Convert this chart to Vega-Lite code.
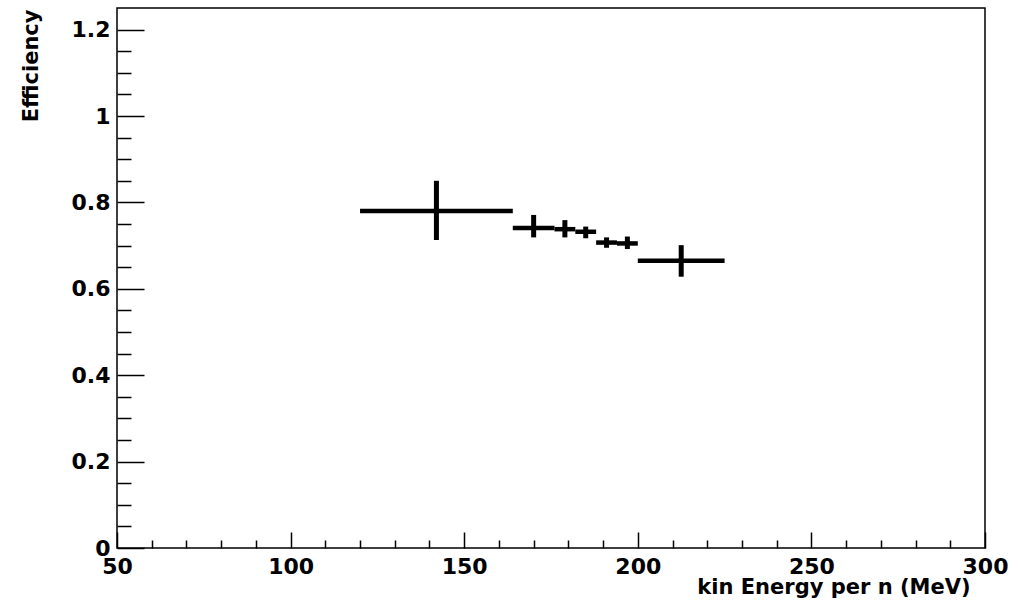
{
  "$schema": "https://vega.github.io/schema/vega-lite/v6.json",
  "width": 868,
  "height": 540,
  "autosize": {"type": "none"},
  "padding": {"left": 117, "top": 8, "right": 35, "bottom": 52},
  "background": "white",
  "config": {
    "view": {"stroke": "black", "strokeWidth": 1.5},
    "axis": {
      "grid": false,
      "domain": false,
      "tickColor": "black",
      "tickWidth": 1.5,
      "labelFont": "DejaVu Sans",
      "labelFontWeight": "bold",
      "labelFontSize": 22,
      "labelColor": "black",
      "titleFont": "DejaVu Sans",
      "titleFontWeight": "bold",
      "titleFontSize": 21,
      "titleColor": "black",
      "labelFlush": false,
      "labelOverlap": false,
      "labelBound": false
    }
  },
  "data": {
    "values": [
      {"x": 142, "xlo": 120, "xhi": 164, "y": 0.780, "ylo": 0.713, "yhi": 0.850},
      {"x": 170, "xlo": 164, "xhi": 176, "y": 0.741, "ylo": 0.719, "yhi": 0.771},
      {"x": 179, "xlo": 176, "xhi": 182, "y": 0.738, "ylo": 0.719, "yhi": 0.759},
      {"x": 185, "xlo": 182, "xhi": 188, "y": 0.732, "ylo": 0.717, "yhi": 0.744},
      {"x": 191, "xlo": 188, "xhi": 194, "y": 0.707, "ylo": 0.695, "yhi": 0.719},
      {"x": 197, "xlo": 194, "xhi": 200, "y": 0.705, "ylo": 0.692, "yhi": 0.721},
      {"x": 212.5, "xlo": 200, "xhi": 225, "y": 0.665, "ylo": 0.628, "yhi": 0.701}
    ]
  },
  "layer": [
    {
      "mark": {"type": "rule", "strokeWidth": 4.5, "color": "black"},
      "encoding": {
        "x": {
          "field": "xlo",
          "type": "quantitative",
          "scale": {"domain": [50, 300], "nice": false, "zero": false},
          "axis": {
            "orient": "bottom",
            "values": [50, 100, 150, 200, 250, 300],
            "format": "d",
            "tickSize": -16,
            "labelPadding": 41,
            "labelBaseline": "alphabetic",
            "title": "kin Energy per n (MeV)",
            "titleAnchor": "end",
            "titleAlign": "right",
            "titleBaseline": "alphabetic",
            "titleX": 853,
            "titleY": 45
          }
        },
        "x2": {"field": "xhi"},
        "y": {
          "field": "y",
          "type": "quantitative",
          "scale": {"domain": [0, 1.25], "nice": false, "zero": false},
          "axis": {
            "orient": "left",
            "values": [0, 0.2, 0.4, 0.6, 0.8, 1, 1.2],
            "format": "~g",
            "tickSize": -27,
            "labelPadding": 34,
            "title": "Efficiency",
            "titleAnchor": "end",
            "titleAlign": "right",
            "titleAngle": 270,
            "titleBaseline": "alphabetic",
            "titleX": -80,
            "titleY": 1
          }
        }
      }
    },
    {
      "mark": {"type": "rule", "strokeWidth": 5, "color": "black"},
      "encoding": {
        "x": {
          "field": "x",
          "type": "quantitative",
          "axis": {
            "orient": "bottom",
            "values": [60, 70, 80, 90, 110, 120, 130, 140, 160, 170, 180, 190, 210, 220, 230, 240, 260, 270, 280, 290],
            "tickSize": -8,
            "labels": false,
            "title": null
          }
        },
        "y": {
          "field": "ylo",
          "type": "quantitative",
          "axis": {
            "orient": "left",
            "values": [0.05, 0.1, 0.15, 0.25, 0.3, 0.35, 0.45, 0.5, 0.55, 0.65, 0.7, 0.75, 0.85, 0.9, 0.95, 1.05, 1.1, 1.15],
            "tickSize": -14,
            "labels": false,
            "title": null
          }
        },
        "y2": {"field": "yhi"}
      }
    }
  ],
  "resolve": {"axis": {"x": "independent", "y": "independent"}}
}
